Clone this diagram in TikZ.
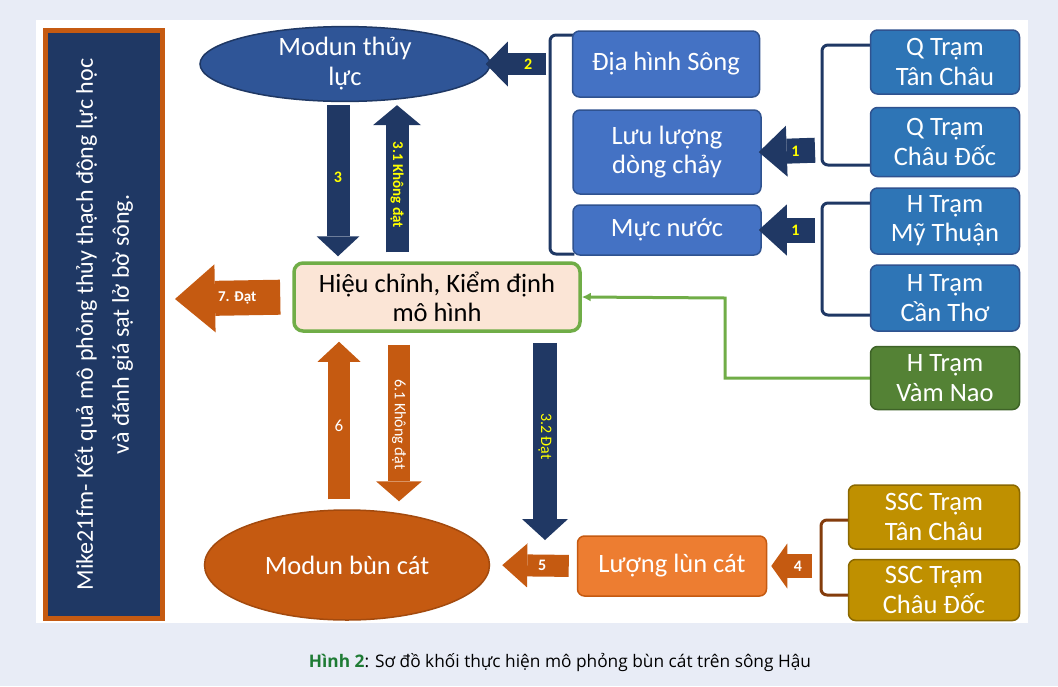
\documentclass[tikz,border=0pt]{standalone}
\usepackage{fontspec}
\setmainfont{Carlito}
\newfontfamily\capfont{Open Sans}
\usetikzlibrary{arrows.meta,shapes.geometric,calc,backgrounds}

\definecolor{pagebg}{HTML}{E8ECF6}
\definecolor{navyfill}{HTML}{1F3864}
\definecolor{navyarrow}{HTML}{203864}
\definecolor{ellblue}{HTML}{2F5597}
\definecolor{boxblue}{HTML}{4472C4}
\definecolor{stnblue}{HTML}{2E75B6}
\definecolor{blueedge}{HTML}{2F528F}
\definecolor{rust}{HTML}{C55A11}
\definecolor{rustedge}{HTML}{A34A0E}
\definecolor{lightrust}{HTML}{ED7D31}
\definecolor{goldfill}{HTML}{BF9000}
\definecolor{goldedge}{HTML}{8A6800}
\definecolor{leaf}{HTML}{548235}
\definecolor{leafedge}{HTML}{3E6327}
\definecolor{limeedge}{HTML}{70AD47}
\definecolor{peach}{HTML}{FBE5D6}
\definecolor{bracketbrown}{HTML}{843C0C}
\definecolor{capgreen}{HTML}{1E7B34}
\definecolor{signal}{HTML}{FFFF00}

\tikzset{
  box/.style={rounded corners=7pt, line width=1.5pt, text=white, align=center,
    inner sep=2pt, font=\fontsize{26.5}{29.5}\selectfont},
  inbox/.style={box, fill=boxblue, draw=blueedge},
  stnbox/.style={box, fill=stnblue, draw=blueedge},
  vnbox/.style={box, fill=leaf, draw=leafedge},
  sscbox/.style={box, fill=goldfill, draw=goldedge},
  sandbox/.style={box, fill=lightrust, draw=rust},
  calbox/.style={box, fill=peach, draw=limeedge, line width=3.5pt, text=black, rounded corners=9pt},
  module/.style={ellipse, inner sep=0pt, line width=1.5pt, text=white, align=center,
    font=\fontsize{26.5}{30}\selectfont},
  navyline/.style={draw=navyfill, line width=3pt, rounded corners=6pt},
  brownline/.style={draw=bracketbrown, line width=3pt, rounded corners=6pt},
  greenline/.style={draw=limeedge, line width=3pt, -{Latex[length=9pt,width=9pt]}},
  blockarrow/.style n args={3}{line width=#1, -{Triangle[line width=0pt, width=#2, length=#3]}},
  navyblock/.style={color=navyarrow},
  rustblock/.style={color=rust},
  ylabel/.style={text=signal, font=\bfseries\fontsize{16}{18}\selectfont, inner sep=0pt},
  wlabel/.style={text=white, font=\bfseries\fontsize{16}{18}\selectfont, inner sep=0pt},
}

\pgfdeclarelayer{background}
\pgfsetlayers{background,main}

\begin{document}
\begin{tikzpicture}[x=1pt,y=-1pt]
\useasboundingbox (0,0) rectangle (1058,686);

% result column on the left
\node[fill=navyfill, draw=rust, line width=5pt, minimum width=117pt, minimum height=588pt, inner sep=0pt] (res) at (104,324.5) {};
\node[rotate=90, text=white, align=center, font=\fontsize{24}{36}\selectfont] (restext) at (res.center)
  {Mike21fm- Kết quả mô phỏng thủy thạch động lực học\\và đánh giá sạt lở bờ sông.};

% modules
\node[module, fill=ellblue, draw=navyfill, minimum width=290pt, minimum height=72pt] (thuyluc) at (345,64) {Modun thủy\\lực};
\node[module, fill=rust, draw=rustedge, minimum width=285pt, minimum height=110pt] (buncat) at (347,565) {Modun bùn cát};

% calibration step
\node[calbox, minimum width=286pt, minimum height=68pt] (hieuchinh) at (437,297) {Hiệu chỉnh, Kiểm định\\mô hình};

% input data
\node[inbox, minimum width=187pt, minimum height=66pt] (diahinh) at (666,64) {Địa hình Sông};
\node[inbox, minimum width=188pt, minimum height=84pt] (luuluong) at (667,152) {Lưu lượng\\dòng chảy};
\node[inbox, minimum width=188pt, minimum height=50pt] (mucnuoc) at (667,230) {Mực nước};
\node[sandbox, minimum width=189pt, minimum height=60pt] (luong) at (672,566) {Lượng lùn cát};

% gauging stations
\node[stnbox, minimum width=149pt, minimum height=64pt] (qtc) at (945,62) {Q Trạm\\Tân Châu};
\node[stnbox, minimum width=149pt, minimum height=69pt] (qcd) at (945,142) {Q Trạm\\Châu Đốc};
\node[stnbox, minimum width=149pt, minimum height=66pt] (hmt) at (945,221) {H Trạm\\Mỹ Thuận};
\node[stnbox, minimum width=149pt, minimum height=66pt] (hct) at (945,298) {H Trạm\\Cần Thơ};
\node[vnbox, minimum width=149pt, minimum height=63pt] (hvn) at (945,378) {H Trạm\\Vàm Nao};
\node[sscbox, minimum width=171pt, minimum height=64pt] (ssctc) at (934,517) {SSC Trạm\\Tân Châu};
\node[sscbox, minimum width=171pt, minimum height=61pt] (ssccd) at (934,590) {SSC Trạm\\Châu Đốc};

% caption
\node[font=\capfont\fontsize{17.3}{20}\selectfont, inner sep=0pt] (caption) at (560,662)
  {\textbf{\color{capgreen}Hình 2}: Sơ đồ khối thực hiện mô phỏng bùn cát trên sông Hậu};

% junction points of the brackets and free arrow ends
\coordinate (j2) at (550,64);
\coordinate (j1a) at (822,150);
\coordinate (j1b) at (822,230);
\coordinate (j4) at (821,566);
\coordinate (gk) at (725,298);
\coordinate (t7) at (175,299);
\coordinate (t32) at (545,540);

\begin{pgfonlayer}{background}
  \fill[pagebg] (0,0) rectangle (1058,686);
  \fill[white] (36,20) rectangle (1028,623);

  % brackets gathering the inputs
  \draw[navyline] ($(diahinh.west)+(2,-29)$) -| (j2) |- ($(mucnuoc.west)+(2,24)$);
  \draw[navyline] ($(qtc.west)+(2,-17)$) -| (j1a) |- ($(qcd.west)+(2,23)$);
  \draw[navyline] ($(hmt.west)+(2,-18)$) -| (j1b) |- ($(hct.west)+(2,17)$);
  \draw[brownline] ($(ssctc.west)+(2,3)$) -| (j4) |- ($(ssccd.west)+(2,5)$);
  \draw[greenline] (hvn.west) -| (gk) -- (hieuchinh.east);
\end{pgfonlayer}

% block arrows
\draw[navyblock, blockarrow={22pt}{45pt}{22pt}, shorten <=4pt, shorten >=-5pt] (j2) -- (thuyluc.east)
  node[ylabel, pos=0.37] {2};
\draw[navyblock, blockarrow={25pt}{51pt}{28pt}, shorten <=7pt, shorten >=-3pt] (j1a) -- (luuluong.east)
  node[ylabel, pos=0.44] {1};
\draw[navyblock, blockarrow={25pt}{51pt}{28pt}, shorten <=7pt, shorten >=-3pt] (j1b) -- (mucnuoc.east)
  node[ylabel, pos=0.44] {1};
\draw[navyblock, blockarrow={23pt}{43pt}{20pt}, shorten <=3pt, shorten >=5pt] ([xshift=-7pt]thuyluc.south) -- ([xshift=-99pt]hieuchinh.north)
  node[ylabel, pos=0.47] {3};
\draw[navyblock, blockarrow={23pt}{48pt}{20pt}, shorten <=9pt, shorten >=3pt] ([xshift=-40pt]hieuchinh.north) -- ([xshift=52pt]thuyluc.south)
  node[ylabel, pos=0.48, rotate=-90, font=\bfseries\fontsize{15}{17}\selectfont] {3.1 Không đạt};
\draw[rustblock, blockarrow={35pt}{68pt}{40pt}, shorten <=12pt] (hieuchinh.west) -- (t7)
  node[wlabel, pos=0.47, font=\bfseries\fontsize{15}{17}\selectfont] {7. Đạt};
\draw[rustblock, blockarrow={22pt}{43pt}{20pt}, shorten <=10pt, shorten >=9pt] ([xshift=-8pt]buncat.north) -- ([xshift=-98pt]hieuchinh.south)
  node[pos=0.47, text=white, font=\fontsize{17}{19}\selectfont, inner sep=0pt] {6};
\draw[rustblock, blockarrow={22pt}{46pt}{20pt}, shorten <=12pt, shorten >=8pt] ([xshift=-38pt]hieuchinh.south) -- ([xshift=52pt]buncat.north)
  node[pos=0.52, rotate=-90, text=white, font=\fontsize{16}{18}\selectfont, inner sep=0pt] {6.1 Không đạt};
\draw[navyblock, blockarrow={24pt}{46pt}{21pt}, shorten <=10pt] ([xshift=108pt]hieuchinh.south) -- (t32)
  node[pos=0.5, rotate=-90, text=signal, font=\fontsize{16}{18}\selectfont, inner sep=0pt] {3.2 Đạt};
\draw[rustblock, blockarrow={22pt}{44pt}{25pt}, shorten <=8pt, shorten >=12pt] (luong.west) -- (buncat.east)
  node[wlabel, pos=0.4] {5};
\draw[rustblock, blockarrow={24pt}{45pt}{16pt}, shorten <=9pt, shorten >=4pt] (j4) -- (luong.east)
  node[wlabel, pos=0.43] {4};
\end{tikzpicture}
\end{document}
